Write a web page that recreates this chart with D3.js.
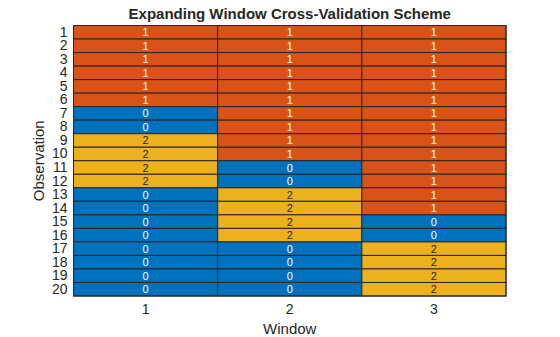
<!DOCTYPE html>
<html><head><meta charset="utf-8">
<script src="https://cdn.jsdelivr.net/npm/d3@7"></script>
<style>body{margin:0;background:#fff}svg{display:block;font-family:"Liberation Sans",Arial,sans-serif}</style>
</head><body><svg id="c" width="560" height="337"></svg>
<script>
const windows = ["1","2","3"];
const observations = d3.range(1,21).map(String);
const window1 = [1,1,1,1,1,1,0,0,2,2,2,2,0,0,0,0,0,0,0,0];
const window2 = [1,1,1,1,1,1,1,1,1,1,0,0,2,2,2,2,0,0,0,0];
const window3 = [1,1,1,1,1,1,1,1,1,1,1,1,1,1,0,0,2,2,2,2];
const seriesVals = [window1, window2, window3];

const svg = d3.select("#c");
const m = {l:73.5, t:25.5, r:506, b:296};
const x = d3.scaleBand().domain(windows).range([m.l, m.r]);
const y = d3.scaleBand().domain(observations).range([m.t, m.b]);
const color = d3.scaleOrdinal().domain([0,1,2]).range(["#0072BD","#D95319","#EDB120"]);
const textColor = d => d===2 ? "#262626" : "#ffffff";

const cells = [];
windows.forEach((w,i)=>observations.forEach((o,j)=>cells.push({w,o,v:seriesVals[i][j]})));

svg.append("g").selectAll("rect").data(cells).join("rect")
  .attr("x",d=>x(d.w)).attr("y",d=>y(d.o))
  .attr("width",x.bandwidth()).attr("height",y.bandwidth())
  .attr("fill",d=>color(d.v)).attr("stroke","#262626").attr("stroke-width",1);

svg.append("g").selectAll("text").data(cells).join("text")
  .attr("x",d=>x(d.w)+x.bandwidth()/2).attr("y",d=>y(d.o)+y.bandwidth()/2)
  .attr("text-anchor","middle").attr("dominant-baseline","central")
  .attr("font-size",11).attr("fill",d=>textColor(d.v)).text(d=>d.v);

svg.append("rect").attr("x",m.l).attr("y",m.t).attr("width",m.r-m.l).attr("height",m.b-m.t)
  .attr("fill","none").attr("stroke","#262626").attr("stroke-width",1);

// y axis labels
const ya = svg.append("g").attr("transform",`translate(${m.l},0)`)
  .call(d3.axisLeft(y).tickSize(0).tickPadding(6));
ya.select(".domain").remove();
ya.selectAll("text").attr("font-size",14).attr("fill","#262626").attr("font-family","Liberation Sans, Arial, sans-serif");

const xa = svg.append("g").attr("transform",`translate(0,${m.b})`)
  .call(d3.axisBottom(x).tickSize(0).tickPadding(8));
xa.select(".domain").remove();
xa.selectAll("text").attr("font-size",14).attr("fill","#262626").attr("font-family","Liberation Sans, Arial, sans-serif");

svg.append("text").attr("x",(m.l+m.r)/2).attr("y",19).attr("text-anchor","middle")
  .attr("font-size",15).attr("font-weight","bold").attr("fill","#262626")
  .text("Expanding Window Cross-Validation Scheme");
svg.append("text").attr("x",(m.l+m.r)/2).attr("y",334).attr("text-anchor","middle")
  .attr("font-size",15).attr("fill","#262626").text("Window");
svg.append("text").attr("transform",`translate(44,${(m.t+m.b)/2}) rotate(-90)`).attr("text-anchor","middle")
  .attr("font-size",15).attr("fill","#262626").text("Observation");
</script></body></html>
